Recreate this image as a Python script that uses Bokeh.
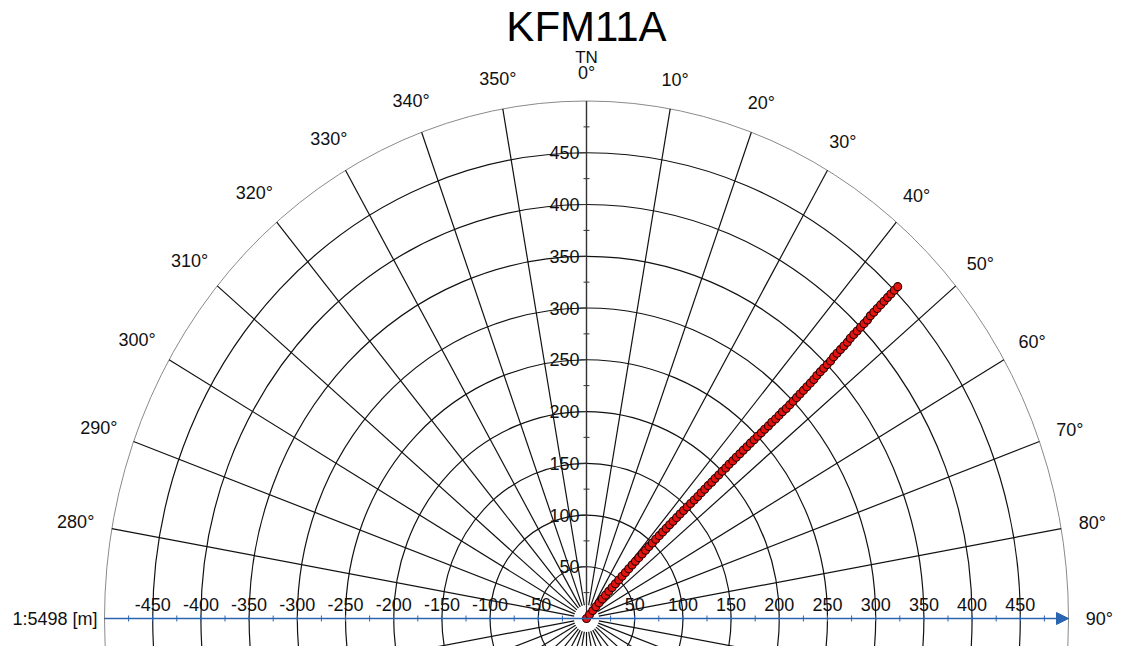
import math

from bokeh.plotting import figure
from bokeh.models import Range1d, Arrow, NormalHead, ColumnDataSource
from bokeh.core.properties import value
from bokeh.embed import file_html
from bokeh.resources import INLINE

# ---- chart content -------------------------------------------------------
title_text = "KFM11A"
scale_text = "1:5498 [m]"
north_text = "TN"

ring_radii = [50, 100, 150, 200, 250, 300, 350, 400, 450]
outer_radius = 500
spoke_angles = [0, 10, 20, 30, 40, 50, 60, 70, 80, 90, 100, 110, 120, 130, 140, 150, 160, 170,
                180, 190, 200, 210, 220, 230, 240, 250, 260, 270, 280, 290, 300, 310, 320, 330, 340, 350]
bearing_labels = [280, 290, 300, 310, 320, 330, 340, 350, 0, 10, 20, 30, 40, 50, 60, 70, 80, 90]

x_tick_labels = [-450, -400, -350, -300, -250, -200, -150, -100, -50,
                 50, 100, 150, 200, 250, 300, 350, 400, 450]
x_minor_ticks = [-475, -425, -375, -325, -275, -225, -175, -125, -75, -25,
                 25, 75, 125, 175, 225, 275, 325, 375, 425, 475]
y_tick_labels = [50, 100, 150, 200, 250, 300, 350, 400, 450]
y_minor_ticks = [25, 75, 125, 175, 225, 275, 325, 375, 425, 475]

# borehole trace: horizontal distance from the collar [m] and bearing [deg]
trace_distance = [0, 5, 10, 15, 20, 25, 30, 35, 40, 45, 50, 55, 60, 65, 70, 75, 80, 85, 90, 95,
                  100, 105, 110, 115, 120, 125, 130, 135, 140, 145, 150, 155, 160, 165, 170, 175,
                  180, 185, 190, 195, 200, 205, 210, 215, 220, 225, 230, 235, 240, 245, 250, 255,
                  260, 265, 270, 275, 280, 285, 290, 295, 300, 305, 310, 315, 320, 325, 330, 335,
                  340, 345, 350, 355, 360, 365, 370, 375, 380, 385, 390, 395, 400, 405, 410, 415,
                  420, 425, 430, 435, 440, 445, 450, 455]
trace_bearing = [40.0, 40.2, 40.4, 40.6, 40.8,
                 41.0, 41.2, 41.4, 41.6, 41.8, 42.0, 42.1, 42.3,
                 42.4, 42.5, 42.6, 42.7, 42.8, 42.9, 43.0, 43.1,
                 43.2, 43.3, 43.4, 43.5, 43.6, 43.7, 43.8, 43.9, 44.0, 44.1,
                 44.2, 44.3, 44.4, 44.4, 44.5, 44.5, 44.6, 44.6, 44.7, 44.7,
                 44.8, 44.8, 44.9, 44.9, 45.0, 45.0, 45.1, 45.1, 45.2, 45.2,
                 45.3, 45.3, 45.4, 45.4, 45.5, 45.5, 45.5, 45.6, 45.6, 45.6,
                 45.6, 45.6, 45.6, 45.6, 45.6, 45.6, 45.5, 45.5, 45.5, 45.5,
                 45.5, 45.4, 45.4, 45.4, 45.4, 45.4, 45.3, 45.3, 45.3, 45.3,
                 45.3, 45.3, 45.2, 45.2, 45.2, 45.2, 45.2, 45.2, 45.2, 45.2, 45.2]

# ---- page geometry --------------------------------------------------------
W, H = 1124, 646
CX, CY = 586.0, 618.0          # screen position of the collar
SX, SY = 0.964, 1.035          # pixels per metre, east and north
FONT = value("Liberation Sans")
GRID = "#111111"
BLUE = "#2b65b0"

p = figure(width=W, height=H, output_backend="svg", toolbar_location=None,
           x_range=Range1d(-CX / SX, (W - CX) / SX),
           y_range=Range1d(-(H - CY) / SY, CY / SY),
           min_border=0, min_border_left=0, min_border_right=0,
           min_border_top=0, min_border_bottom=0)
p.axis.visible = False
p.grid.visible = False
p.outline_line_color = None
p.background_fill_color = "white"
p.border_fill_color = "white"


def east(r, deg):
    return r * math.sin(math.radians(deg))


def north(r, deg):
    return r * math.cos(math.radians(deg))


# range rings and the outer bounding ring
p.ellipse(x=0, y=0, width=[2 * r for r in ring_radii], height=[2 * r for r in ring_radii],
          fill_color=None, line_color=GRID, line_width=1.2)
p.ellipse(x=0, y=0, width=2 * outer_radius, height=2 * outer_radius,
          fill_color=None, line_color="#8a8a8a", line_width=1)

# bearing spokes, leaving a small hole round the collar
r_in = 13
p.segment(x0=[east(r_in, a) for a in spoke_angles], y0=[north(r_in, a) for a in spoke_angles],
          x1=[east(outer_radius, a) for a in spoke_angles],
          y1=[north(outer_radius, a) for a in spoke_angles],
          line_color=GRID, line_width=1.2)

# north axis with its ticks
p.segment(x0=[0], y0=[0], x1=[0], y1=[outer_radius], line_color="#333333", line_width=1.2)
p.segment(x0=[-3 / SX] * len(y_minor_ticks), y0=y_minor_ticks,
          x1=[3 / SX] * len(y_minor_ticks), y1=y_minor_ticks, line_color="#333333", line_width=1)
p.segment(x0=[-7 / SX] * len(y_tick_labels), y0=y_tick_labels,
          x1=[0] * len(y_tick_labels), y1=y_tick_labels, line_color="#333333", line_width=1)
p.text(x=[0] * len(y_tick_labels), y=y_tick_labels, text=[str(v) for v in y_tick_labels],
       x_offset=-7, text_align="right", text_baseline="middle",
       text_font=FONT, text_font_size="18px", text_color="#111111")

# east axis: blue arrow with ticks and labels
p.add_layout(Arrow(end=NormalHead(size=12, fill_color=BLUE, line_color=BLUE),
                   x_start=-outer_radius, y_start=0, x_end=outer_radius, y_end=0,
                   line_color=BLUE, line_width=1.5))
all_x_ticks = x_minor_ticks + x_tick_labels
p.segment(x0=all_x_ticks, y0=[-3 / SY] * len(all_x_ticks),
          x1=all_x_ticks, y1=[3 / SY] * len(all_x_ticks), line_color=BLUE, line_width=1)
p.text(x=x_tick_labels, y=[0] * len(x_tick_labels), text=[str(v) for v in x_tick_labels],
       y_offset=-14, text_align="center", text_baseline="middle",
       text_font=FONT, text_font_size="18px", text_color="#111111")

# bearing labels round the rim
lab_x, lab_y, lab_t = [], [], []
for a in bearing_labels:
    t = f"{a}\u00b0"
    half_w = (10.0 * (len(t) - 1) + 7.0) / 2 - 2
    half_h = 7.0
    s, c = abs(math.sin(math.radians(a))), abs(math.cos(math.radians(a)))
    r_c = 520 + half_w * s / SX + half_h * c / SY
    lab_x.append(east(r_c, a))
    lab_y.append(north(r_c, a))
    lab_t.append(t)
p.text(x=lab_x, y=lab_y, text=lab_t, text_align="center", text_baseline="middle",
       text_font=FONT, text_font_size="18px", text_color="#111111")

# north marker, scale note and title
p.text(x=[0], y=[CY / SY], text=[north_text], y_offset=57, text_align="center",
       text_baseline="middle", text_font=FONT, text_font_size="17px", text_color="#111111")
p.text(x=[-outer_radius], y=[0], text=[scale_text], x_offset=-7, text_align="right",
       text_baseline="middle", text_font=FONT, text_font_size="18px", text_color="#111111")
p.text(x=[0], y=[CY / SY], text=[title_text], y_offset=26, text_align="center",
       text_baseline="middle", text_font=FONT, text_font_size="42px", text_color="#000000")

# borehole trace
src = ColumnDataSource(dict(
    x=[east(r, b) for r, b in zip(trace_distance, trace_bearing)],
    y=[north(r, b) for r, b in zip(trace_distance, trace_bearing)],
))
p.scatter(x="x", y="y", source=src, marker="circle", size=8,
          fill_color="#e3140f", line_color="#2a0000", line_width=1.1)

open("out.html", "w").write(file_html(p, INLINE))
